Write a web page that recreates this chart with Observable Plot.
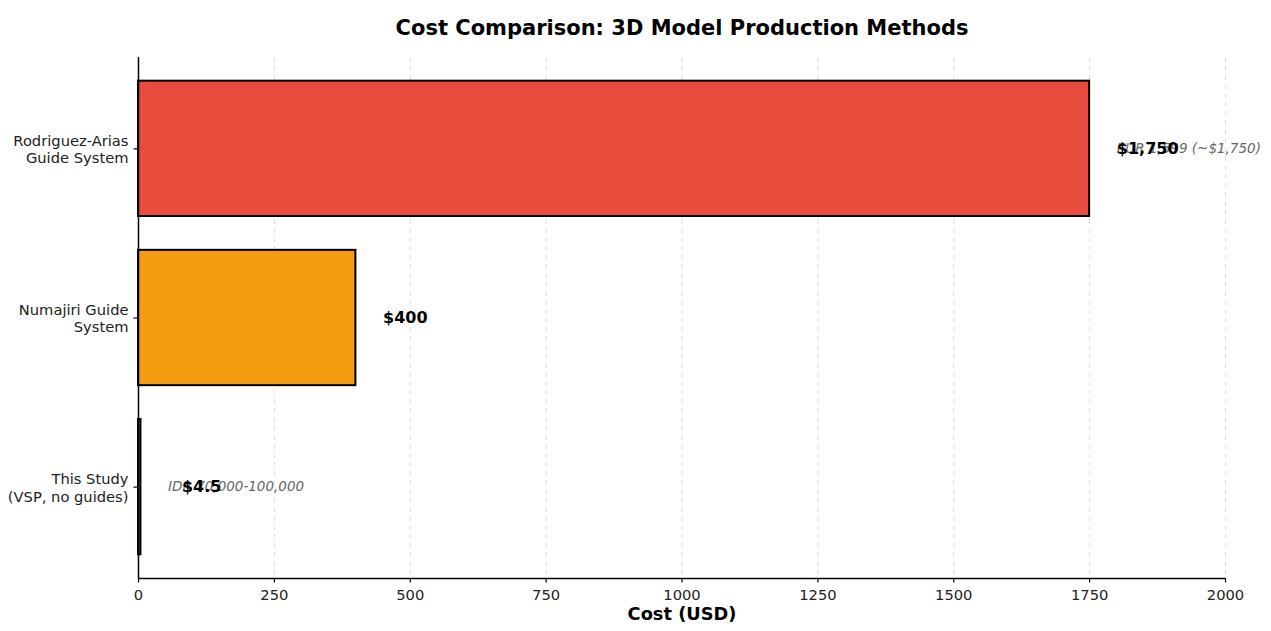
<!DOCTYPE html>
<html>
<head>
<meta charset="utf-8">
<script src="https://cdn.jsdelivr.net/npm/d3@7"></script>
<script src="https://cdn.jsdelivr.net/npm/@observablehq/plot@0.6"></script>
<style>
  html, body { margin: 0; padding: 0; background: #fff; }
  #chart svg { display: block; }
</style>
</head>
<body>
<div id="chart"></div>
<script>
// Production methods, top to bottom
const methods = [
  "Rodriguez-Arias\nGuide System",
  "Numajiri Guide\nSystem",
  "This Study\n(VSP, no guides)"
];
// Cost per model in USD
const costs = [1750, 400, 4.5];
// Bold value labels
const valueLabels = ["$1,750", "$400", "$4.5"];
// Original-currency notes (empty where none)
const notes = ["EUR 1,599 (~$1,750)", "", "IDR 70,000-100,000"];
const colors = ["#e74c3c", "#f39c12", "#27ae60"];
const xTicks = [0, 250, 500, 750, 1000, 1250, 1500, 1750, 2000];

const rows = methods.map((m, i) => ({
  i, method: m, cost: costs[i], label: valueLabels[i], note: notes[i], color: colors[i]
}));

const font = "DejaVu Sans, sans-serif";
const yDomain = [2.54, -0.54];

const chart = Plot.plot({
  width: 1271,
  height: 631,
  marginLeft: 138,
  marginRight: 46,
  marginTop: 57,
  marginBottom: 53,
  style: { fontFamily: font, background: "#fff", color: "#000" },
  x: { domain: [0, 2000] },
  y: { domain: yDomain },
  marks: [
    Plot.gridX(xTicks.filter(t => t > 0), {
      stroke: "#d9d9d9", strokeOpacity: 1, strokeDasharray: "5,4", strokeWidth: 0.9
    }),
    Plot.rectX(rows, {
      x1: 0, x2: "cost",
      y1: d => d.i - 0.4, y2: d => d.i + 0.4,
      fill: "color", stroke: "#000", strokeWidth: 2
    }),
    Plot.text(rows.filter(d => d.note), {
      x: d => d.cost + 50, y: "i", text: "note",
      textAnchor: "start", fontStyle: "italic", fontSize: 13.5, fill: "#666"
    }),
    Plot.text(rows, {
      x: d => Math.max(d.cost + 50, 80), y: "i", text: "label",
      textAnchor: "start", fontWeight: "bold", fontSize: 16, fill: "#000"
    }),
    Plot.ruleX([0], { stroke: "#000", strokeWidth: 1.5 }),
    Plot.ruleY([yDomain[0]], { stroke: "#000", strokeWidth: 1.5 }),
    Plot.axisX({
      ticks: xTicks, tickFormat: d => String(d), tickSize: 4.5, tickPadding: 7,
      fontSize: 14.7, label: null, stroke: "#000", strokeWidth: 1.2, fill: "#222"
    }),
    Plot.axisY({
      ticks: [0, 1, 2], tickFormat: i => methods[i], tickSize: 4.5, tickPadding: 5.5,
      fontSize: 14.7, label: null, stroke: "#000", strokeWidth: 1.2, lineHeight: 1.2, fill: "#222"
    }),
    Plot.text(["Cost (USD)"], {
      frameAnchor: "bottom", dy: 41, fontWeight: "bold", fontSize: 17.8, fill: "#000"
    }),
    Plot.text(["Cost Comparison: 3D Model Production Methods"], {
      frameAnchor: "top", dy: -37, fontWeight: "bold", fontSize: 21, fill: "#000"
    })
  ]
});

document.getElementById("chart").appendChild(chart);
</script>
</body>
</html>
